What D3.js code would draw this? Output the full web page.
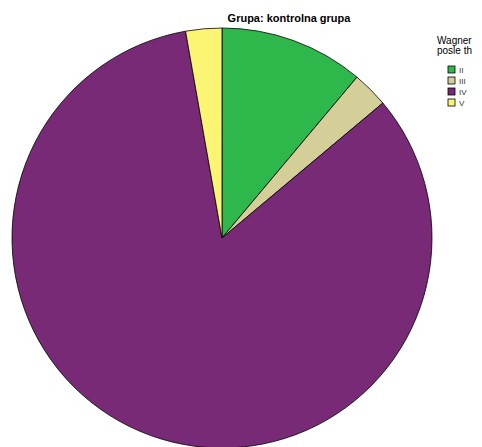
<!DOCTYPE html>
<html>
<head>
<meta charset="utf-8">
<script src="https://cdn.jsdelivr.net/npm/d3@7"></script>
<style>
  html, body { margin: 0; padding: 0; background: #fff; }
  svg { display: block; }
  text { font-family: "Liberation Sans", Arial, sans-serif; }
</style>
</head>
<body>
<script>
// Wagner grade counts for the control group
const categories = ["II", "III", "IV", "V"];
const counts = [4, 1, 30, 1];
const colors = ["#2eb84b", "#d4cf98", "#792a77", "#fcf573"];
const chartTitle = "Grupa: kontrolna grupa";
const legendTitle = ["Wagner", "posle th"];

const W = 482, H = 447;
const svg = d3.select("body").append("svg").attr("width", W).attr("height", H);

const cx = 222, cy = 238, r = 210;

const color = d3.scaleOrdinal().domain(categories).range(colors);
const data = categories.map((c, i) => ({ cat: c, value: counts[i] }));

const pie = d3.pie().value(d => d.value).sort(null);
const arc = d3.arc().innerRadius(0).outerRadius(r);

svg.append("g")
  .attr("transform", `translate(${cx},${cy})`)
  .selectAll("path")
  .data(pie(data))
  .join("path")
  .attr("d", arc)
  .attr("fill", d => color(d.data.cat))
  .attr("stroke", "#000")
  .attr("stroke-width", 0.8)
  .attr("stroke-linejoin", "round");

svg.append("text")
  .attr("x", 289).attr("y", 22)
  .attr("text-anchor", "middle")
  .attr("font-size", 11)
  .attr("font-weight", "bold")
  .text(chartTitle);

// Legend
const lg = svg.append("g");
lg.selectAll("text.lt")
  .data(legendTitle)
  .join("text")
  .attr("class", "lt")
  .attr("x", 437)
  .attr("y", (d, i) => 44 + i * 10)
  .attr("font-size", 10)
  .text(d => d);

const items = lg.selectAll("g.item")
  .data(categories)
  .join("g")
  .attr("class", "item")
  .attr("transform", (d, i) => `translate(448,${66 + i * 11})`);

items.append("rect")
  .attr("width", 7).attr("height", 7)
  .attr("fill", d => color(d))
  .attr("stroke", "#000")
  .attr("stroke-width", 0.8);

items.append("text")
  .attr("x", 11).attr("y", 7)
  .attr("font-size", 8)
  .attr("fill", "#333")
  .text(d => d);
</script>
</body>
</html>
